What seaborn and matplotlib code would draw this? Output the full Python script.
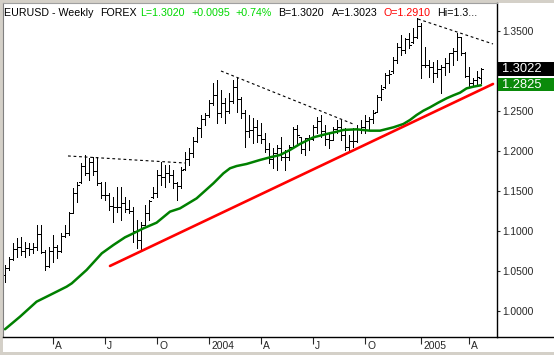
import numpy as np
import pandas as pd
import matplotlib
matplotlib.use("Agg")
import matplotlib.pyplot as plt
import matplotlib.transforms as mtransforms
from matplotlib.patches import Rectangle
from matplotlib.lines import Line2D
import seaborn as sns

# weekly EURUSD bars, Jan 2003 - Apr 2005
first_week = "2003-01-10"
highs = [1.0575, 1.0675, 1.0850, 1.0913, 1.0925, 1.0863, 1.0850, 1.0850, 1.1075, 1.1075,
         1.0763, 1.0800, 1.0950, 1.0825, 1.0975, 1.1075, 1.1238, 1.1538, 1.1613, 1.1850,
         1.1950, 1.1913, 1.1925, 1.1925, 1.1613, 1.1613, 1.1475, 1.1425, 1.1550, 1.1550,
         1.1425, 1.1388, 1.1300, 1.1138, 1.1113, 1.1325, 1.1388, 1.1550, 1.1763, 1.1863,
         1.1825, 1.1825, 1.1763, 1.1613, 1.1800, 1.1988, 1.2038, 1.2175, 1.2300, 1.2450,
         1.2475, 1.2638, 1.2850, 1.2888, 1.2763, 1.2663, 1.2725, 1.2888, 1.2913, 1.2675,
         1.2513, 1.2450, 1.2413, 1.2388, 1.2350, 1.2225, 1.2100, 1.2038, 1.2075, 1.2175,
         1.2013, 1.2075, 1.2300, 1.2325, 1.2175, 1.2163, 1.2200, 1.2325, 1.2425, 1.2450,
         1.2325, 1.2225, 1.2300, 1.2388, 1.2388, 1.2288, 1.2200, 1.2288, 1.2325, 1.2388,
         1.2450, 1.2425, 1.2513, 1.2700, 1.2825, 1.2975, 1.3013, 1.3175, 1.3350, 1.3450,
         1.3413, 1.3475, 1.3538, 1.3663, 1.3600, 1.3300, 1.3138, 1.3113, 1.3138, 1.3075,
         1.3163, 1.3225, 1.3288, 1.3475, 1.3425, 1.3238, 1.3050, 1.2913, 1.3000, 1.3038]
lows = [1.0363, 1.0513, 1.0638, 1.0675, 1.0700, 1.0675, 1.0700, 1.0725, 1.0763, 1.0725,
        1.0513, 1.0550, 1.0613, 1.0663, 1.0738, 1.0925, 1.0950, 1.1225, 1.1363, 1.1600,
        1.1700, 1.1638, 1.1700, 1.1575, 1.1413, 1.1388, 1.1263, 1.1113, 1.1238, 1.1138,
        1.1238, 1.1225, 1.0863, 1.0788, 1.0763, 1.1075, 1.1138, 1.1413, 1.1425, 1.1575,
        1.1550, 1.1613, 1.1538, 1.1388, 1.1538, 1.1763, 1.1825, 1.1925, 1.2113, 1.2175,
        1.2325, 1.2425, 1.2575, 1.2350, 1.2425, 1.2350, 1.2475, 1.2600, 1.2488, 1.2413,
        1.2050, 1.2175, 1.2100, 1.2113, 1.2100, 1.1988, 1.1850, 1.1788, 1.1763, 1.1888,
        1.1763, 1.1888, 1.2050, 1.2100, 1.1975, 1.1950, 1.2013, 1.2138, 1.2225, 1.2175,
        1.2075, 1.2038, 1.2138, 1.2225, 1.2138, 1.2013, 1.2013, 1.2050, 1.2113, 1.2225,
        1.2225, 1.2263, 1.2350, 1.2488, 1.2638, 1.2788, 1.2850, 1.2975, 1.3100, 1.3200,
        1.3225, 1.3288, 1.3350, 1.3413, 1.2913, 1.3050, 1.2925, 1.2863, 1.2925, 1.2725,
        1.2950, 1.2988, 1.3075, 1.3138, 1.3200, 1.2925, 1.2813, 1.2813, 1.2813, 1.2850]
opens = [1.0450, 1.0540, 1.0650, 1.0780, 1.0800, 1.0750, 1.0790, 1.0770, 1.0800, 1.0960,
         1.0740, 1.0560, 1.0750, 1.0800, 1.0750, 1.0940, 1.0980, 1.1230, 1.1480, 1.1610,
         1.1810, 1.1720, 1.1860, 1.1750, 1.1600, 1.1450, 1.1450, 1.1310, 1.1300, 1.1300,
         1.1350, 1.1280, 1.1250, 1.1000, 1.0890, 1.1080, 1.1230, 1.1420, 1.1480, 1.1700,
         1.1680, 1.1720, 1.1700, 1.1600, 1.1560, 1.1770, 1.1900, 1.1970, 1.2130, 1.2290,
         1.2400, 1.2450, 1.2600, 1.2700, 1.2480, 1.2600, 1.2500, 1.2620, 1.2800, 1.2650,
         1.2480, 1.2250, 1.2260, 1.2300, 1.2200, 1.2150, 1.2020, 1.1900, 1.1980, 1.2040,
         1.1930, 1.1920, 1.2050, 1.2280, 1.2170, 1.2020, 1.2160, 1.2150, 1.2300, 1.2380,
         1.2250, 1.2150, 1.2140, 1.2270, 1.2300, 1.2200, 1.2050, 1.2120, 1.2120, 1.2280,
         1.2300, 1.2380, 1.2400, 1.2490, 1.2670, 1.2800, 1.2950, 1.3000, 1.3140, 1.3300,
         1.3260, 1.3400, 1.3360, 1.3420, 1.3560, 1.3080, 1.3070, 1.3050, 1.2970, 1.3020,
         1.3050, 1.3100, 1.3220, 1.3250, 1.3420, 1.3230, 1.2940, 1.2850, 1.2890, 1.2910]
closes = [1.0540, 1.0650, 1.0780, 1.0800, 1.0750, 1.0790, 1.0770, 1.0800, 1.0960, 1.0740,
          1.0560, 1.0750, 1.0800, 1.0750, 1.0940, 1.0980, 1.1230, 1.1480, 1.1580, 1.1810,
          1.1720, 1.1860, 1.1750, 1.1600, 1.1450, 1.1450, 1.1310, 1.1300, 1.1300, 1.1350,
          1.1280, 1.1250, 1.1000, 1.0890, 1.1070, 1.1230, 1.1380, 1.1480, 1.1700, 1.1680,
          1.1720, 1.1700, 1.1600, 1.1560, 1.1760, 1.1900, 1.1970, 1.2130, 1.2290, 1.2400,
          1.2450, 1.2600, 1.2700, 1.2480, 1.2600, 1.2500, 1.2620, 1.2800, 1.2650, 1.2480,
          1.2250, 1.2260, 1.2300, 1.2200, 1.2150, 1.2020, 1.1900, 1.1980, 1.2040, 1.1930,
          1.1920, 1.2050, 1.2280, 1.2200, 1.2020, 1.2160, 1.2150, 1.2300, 1.2380, 1.2250,
          1.2150, 1.2140, 1.2270, 1.2300, 1.2200, 1.2050, 1.2120, 1.2120, 1.2280, 1.2300,
          1.2380, 1.2400, 1.2480, 1.2670, 1.2780, 1.2950, 1.2960, 1.3140, 1.3300, 1.3260,
          1.3400, 1.3320, 1.3420, 1.3560, 1.3080, 1.3070, 1.3050, 1.2970, 1.3020, 1.3050,
          1.3100, 1.3220, 1.3250, 1.3420, 1.3230, 1.2940, 1.2850, 1.2890, 1.2920, 1.3020]

# green moving average, sampled along the drawn line
ma_weeks = [0, 3.75, 7.9, 11.25, 15.4, 16.7, 20.4, 24.2, 27.1, 30, 32.1, 34.6, 37.9,
            41.25, 43.75, 47.9, 52.1, 54.6, 56.25, 57.9, 60.4, 63.75, 66.25, 68.75,
            71.25, 73.75, 77.1, 80.4, 82.9, 84.6, 87.9, 91.25, 93.75, 97.1, 99.6,
            101.25, 102.9, 104.6, 106.25, 108.3, 110.4, 112.1, 113.75, 115.4, 117.1, 119]
ma_values = [0.9772, 0.9929, 1.0117, 1.0200, 1.0304, 1.0346, 1.0513, 1.0721, 1.0825,
             1.0921, 1.0971, 1.1033, 1.1104, 1.1242, 1.1283, 1.1408, 1.1596, 1.1721,
             1.1784, 1.1812, 1.1838, 1.1888, 1.1921, 1.1950, 1.2013, 1.2088, 1.2171,
             1.2213, 1.2241, 1.2263, 1.2271, 1.2254, 1.2254, 1.2296, 1.2338, 1.2388,
             1.2450, 1.2504, 1.2546, 1.2604, 1.2659, 1.2696, 1.2729, 1.2783, 1.2804, 1.2822]

# hand-drawn lines
trend_weeks = [26.25, 122]
trend_values = [1.0563, 1.2838]
dash_lines = [([15.75, 45.0], [1.1938, 1.1850]),
              ([54.0, 87.0], [1.3000, 1.2338]),
              ([103.25, 122.0], [1.3650, 1.3338])]

# 1.3000 sits under the last-price box, so it is not shown
y_ticks = [1.00, 1.05, 1.10, 1.15, 1.20, 1.25, 1.35]
quarter_letters = {1: None, 4: "A", 7: "J", 10: "O"}
last_price = 1.3022
ma_last = 1.2825
header = [("EURUSD - Weekly", 4, "black"), ("FOREX", 100, "black"),
          ("L=1.3020", 140, "#00d800"), ("+0.0095", 191, "#00d800"),
          ("+0.74%", 235, "#00d800"), ("B=1.3020", 278, "black"),
          ("A=1.3023", 332, "black"), ("O=1.2910", 384, "#ff0000"),
          ("Hi=1.3...", 437, "black")]

sns.set_style("white")
plt.rcParams["font.family"] = ["Liberation Sans", "DejaVu Sans"]

W, H = 554, 355
fig = plt.figure(figsize=(W / 100, H / 100), dpi=100, facecolor="#d4d0c8")
fig.patches.append(Rectangle((3 / W, 3 / H), (W - 3) / W, (H - 6) / H,
                             transform=fig.transFigure, facecolor="white",
                             edgecolor="none", zorder=-10))
ax = fig.add_axes([3 / W, 18 / H, 494 / W, 334 / H])
ax.set_facecolor("white")

weeks = np.arange(len(highs))
dates = pd.date_range(first_week, periods=len(highs), freq="W-FRI")

bar_kw = dict(color="black", lw=0.6, antialiased=False)
ax.vlines(weeks, lows, highs, **bar_kw)
ax.hlines(opens, weeks - 0.4, weeks, **bar_kw)
ax.hlines(closes, weeks, weeks + 0.4, **bar_kw)

sns.lineplot(x=ma_weeks, y=ma_values, ax=ax, color="#008000", lw=1.8)
sns.lineplot(x=trend_weeks, y=trend_values, ax=ax, color="#ff0000", lw=1.9)
for xs, ys in dash_lines:
    ax.plot(xs, ys, color="black", lw=0.8, dashes=(2.5, 2.5))

ax.set_xlim(-0.5, 123.0)
ax.set_ylim(0.9675, 1.385)

# quarter ticks on the first bar of Jan/Apr/Jul/Oct
tick_pos, tick_lab = [], []
for i in range(1, len(dates)):
    m = dates[i].month
    if m in quarter_letters and dates[i - 1].month != m:
        tick_pos.append(i)
        tick_lab.append(str(dates[i].year) if m == 1 else quarter_letters[m])
ax.set_xticks(tick_pos)
ax.set_xticklabels(tick_lab)
ax.tick_params(axis="x", direction="out", length=5, width=0.8, pad=-2.2,
               labelsize=7.4, bottom=True)
shift = mtransforms.ScaledTranslation(0.02, 0, fig.dpi_scale_trans)
for lab in ax.get_xticklabels():
    lab.set_ha("left")
    lab.set_transform(lab.get_transform() + shift)

ax.yaxis.tick_right()
ax.set_yticks(y_ticks)
ax.set_yticklabels([f"{v:.4f}" for v in y_ticks])
ax.tick_params(axis="y", direction="out", length=2.5, width=0.8, pad=1.5,
               labelsize=7.4, right=True, left=False)

for side in ["bottom", "right"]:
    ax.spines[side].set_color("black")
    ax.spines[side].set_linewidth(1.0)
ax.spines["left"].set_color("#808080")
ax.spines["top"].set_color("#a0a0a0")
fig.add_artist(Line2D([497 / W, 1.0], [18 / H, 18 / H], color="black", lw=1.0,
                      transform=fig.transFigure))

# price boxes on the right scale
blend = mtransforms.blended_transform_factory(ax.transAxes, ax.transData)
for price, face in [(last_price, "black"), (ma_last, "#0a8a0a")]:
    ax.add_patch(Rectangle((1.0 + 1 / 494, price - 0.0080), 57 / 494, 0.0165,
                           transform=blend, facecolor=face, edgecolor="none",
                           clip_on=False, zorder=5))
    ax.text(1.0 + 5 / 494, price, f"{price:.4f}", transform=blend, color="white",
            fontsize=9.3, va="center", ha="left", zorder=6)

for txt, px, col in header:
    fig.text(px / W, 1 - 13 / H, txt, color=col, fontsize=7.7, va="center", ha="left")

fig.savefig("out.png", dpi=100, facecolor=fig.get_facecolor())
